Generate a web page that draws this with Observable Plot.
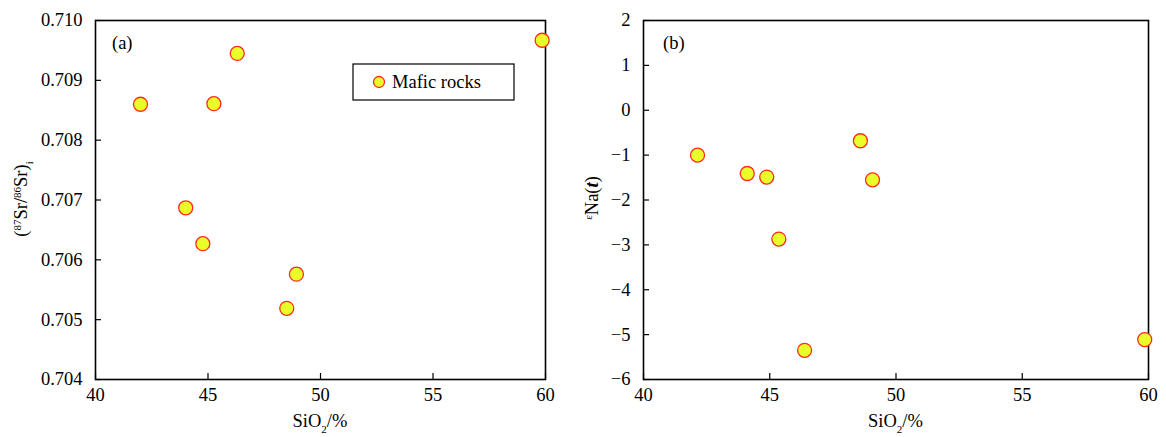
<!DOCTYPE html>
<html>
<head>
<meta charset="utf-8">
<script src="https://cdn.jsdelivr.net/npm/d3@7"></script>
<script src="https://cdn.jsdelivr.net/npm/@observablehq/plot@0.6"></script>
<style>
  html, body { margin: 0; padding: 0; background: #fff; }
  #wrap { position: relative; width: 1166px; height: 437px; overflow: hidden; }
  #wrap > svg { position: absolute; top: 0; }
  #wrap svg, #wrap svg text { font-family: "Liberation Serif", "Times New Roman", serif !important; font-size: 18.5px; }
  #wrap svg text.lbl { text-anchor: start; }
</style>
</head>
<body>
<div id="wrap"></div>
<script>
// ---- data ----
const xTicks = [40, 45, 50, 55, 60];
const yTicksA = [0.704, 0.705, 0.706, 0.707, 0.708, 0.709, 0.710];
const yTicksB = [-6, -5, -4, -3, -2, -1, 0, 1, 2];

const siO2A = [42.0, 45.26, 46.30, 59.85, 44.01, 44.77, 48.93, 48.50];
const srA   = [0.70860, 0.70861, 0.70945, 0.70967, 0.70687, 0.70627, 0.70576, 0.70519];

const siO2B = [42.14, 44.11, 44.88, 48.59, 49.07, 45.36, 46.38, 59.85];
const eNaB  = [-1.00, -1.41, -1.49, -0.68, -1.55, -2.87, -5.35, -5.11];

const seriesName = "Mafic rocks";
const FILL = "#e8ff2a", STROKE = "#ff2a1a";
const FONT = "'Liberation Serif', 'Times New Roman', serif";

const dataA = siO2A.map((x, i) => ({x, y: srA[i]}));
const dataB = siO2B.map((x, i) => ({x, y: eNaB[i]}));

function panel(data, yDomain, yTicks, yFmt, opts) {
  return Plot.plot({
    width: opts.width, height: 437,
    marginLeft: opts.ml, marginRight: opts.mr, marginTop: 20, marginBottom: 58,
    style: {fontFamily: FONT, fontSize: "18.5px", color: "#000", background: "transparent"},
    x: {domain: [40, 60]},
    y: {domain: yDomain},
    marks: [
      Plot.axisX({ticks: xTicks, tickSize: -6, tickPadding: 14, label: null, strokeWidth: 1.2, fontSize: 18.5}),
      Plot.axisY({ticks: yTicks, tickSize: -6, tickPadding: 19, tickFormat: yFmt, label: null, strokeWidth: 1.2, fontSize: 18.5}),
      Plot.frame({stroke: "#000", strokeWidth: 1.6}),
      Plot.dot(data, {x: "x", y: "y", r: 7, fill: FILL, stroke: STROKE, strokeWidth: 1.3})
    ]
  });
}

const wrap = document.getElementById("wrap");

const a = panel(dataA, [0.704, 0.710], yTicksA, d3.format(".3f"), {width: 583, ml: 95, mr: 38});
a.style.left = "0px";
wrap.appendChild(a);

const b = panel(dataB, [-6, 2], yTicksB, undefined, {width: 606, ml: 83, mr: 18});
b.style.left = "560px";
wrap.appendChild(b);

function addText(svg, x, y, parts, rotate) {
  const t = d3.select(svg).append("text")
    .attr("fill", "#000")
    .style("text-anchor", "middle")
    .attr("transform", `translate(${x},${y})` + (rotate ? " rotate(-90)" : ""));
  for (const p of parts) {
    const s = t.append("tspan").text(p.t);
    if (p.sup) s.style("font-size", "11px").attr("baseline-shift", "super");
    if (p.sub) s.style("font-size", "11px").attr("baseline-shift", "sub");
    if (p.italic) s.attr("font-style", "italic").attr("font-weight", "bold");
  }
  return t;
}

// axis titles
addText(a, 320, 427, [{t: "SiO"}, {t: "2", sub: true}, {t: "/%"}]);
addText(b, (643 + 1148) / 2 - 560, 427, [{t: "SiO"}, {t: "2", sub: true}, {t: "/%"}]);
addText(a, 27, 199, [{t: "("}, {t: "87", sup: true}, {t: "Sr/"}, {t: "86", sup: true}, {t: "Sr)"}, {t: "i", sub: true}], true);
addText(b, 38, 198, [{t: "ε", sup: true}, {t: "Na("}, {t: "t", italic: true}, {t: ")"}], true);

// panel tags
d3.select(a).append("text").attr("class", "lbl").attr("x", 112).attr("y", 49).text("(a)");
d3.select(b).append("text").attr("class", "lbl").attr("x", 103).attr("y", 49).text("(b)");

// legend
const lg = d3.select(a).append("g");
lg.append("rect").attr("x", 353).attr("y", 64).attr("width", 161).attr("height", 36)
  .attr("fill", "#fff").attr("stroke", "#000").attr("stroke-width", 1.2);
lg.append("circle").attr("cx", 379).attr("cy", 82).attr("r", 5.5)
  .attr("fill", FILL).attr("stroke", STROKE).attr("stroke-width", 1.3);
lg.append("text").attr("class", "lbl").attr("x", 392).attr("y", 88).text(seriesName);
</script>
</body>
</html>
